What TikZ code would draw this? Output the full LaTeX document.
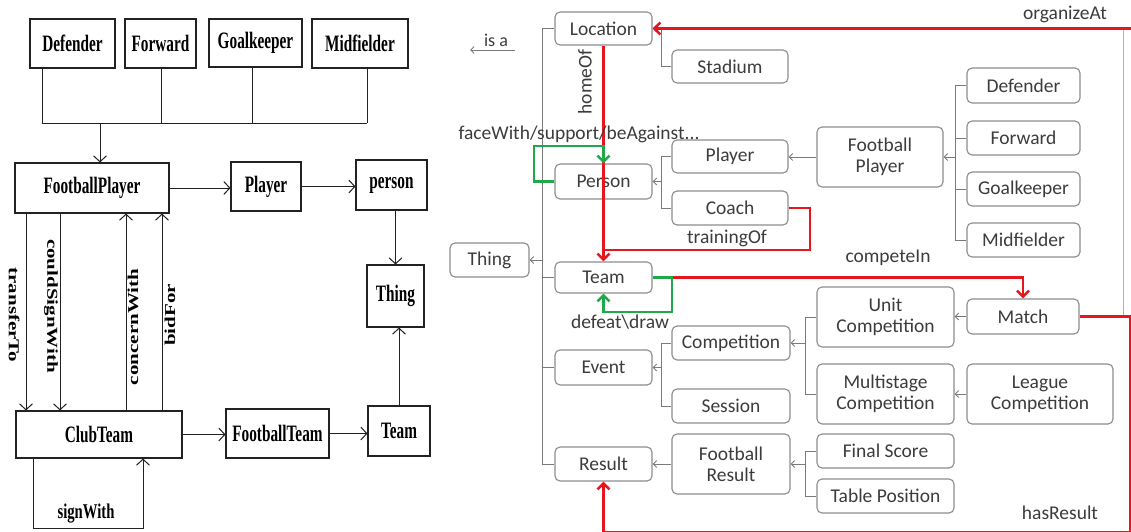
\documentclass[tikz,border=0pt]{standalone}
\usepackage{fontspec}
\usetikzlibrary{arrows.meta}
\setmainfont{Liberation Serif}
\newfontfamily\serifb[FakeStretch=0.65]{Liberation Serif Bold}
\newfontfamily\serifr{Liberation Serif Bold}
\newfontfamily\carl{Carlito}
\definecolor{inkL}{HTML}{222222}
\definecolor{boxline}{HTML}{8C8C8C}
\definecolor{treeline}{HTML}{7A7A7A}
\definecolor{txt}{HTML}{3C3C3C}
\definecolor{relred}{HTML}{E5161E}
\definecolor{relgreen}{HTML}{1FA84C}
\newcommand{\vlab}[1]{\scalebox{1}[0.72]{#1}}
\begin{document}
\begin{tikzpicture}[x=1pt,y=-1pt,
  lbox/.style={draw=inkL,line width=1.1pt,inner sep=0pt,font=\serifb\fontsize{23.5}{26}\selectfont,text=black},
  larr/.style={draw=inkL,line width=1pt,-{Straight Barb[length=6pt,width=13pt]}},
  lline/.style={draw=inkL,line width=1pt},
  llab/.style={inner sep=0pt,font=\serifr\fontsize{21}{24}\selectfont},
  rbox/.style={draw=boxline,line width=1.1pt,rounded corners=5pt,fill=white,inner sep=0pt,
    font=\carl\fontsize{19.5}{21}\selectfont,text=txt,align=center},
  tree/.style={draw=treeline,line width=0.9pt},
  isa/.style={tree,-{Straight Barb[length=3.5pt,width=7pt]}},
  rlab/.style={inner sep=0pt,font=\carl\fontsize{19.5}{21}\selectfont,text=txt},
  rel/.style={draw=relred,line width=2.6pt,-{Straight Barb[length=6pt,width=12pt]}},
  relplain/.style={draw=relred,line width=2.6pt},
  grn/.style={draw=relgreen,line width=2.6pt,-{Straight Barb[length=6pt,width=12pt]}}]
\useasboundingbox (0,0) rectangle (1131,532);
\fill[white] (0,0) rectangle (1131,532);

% ---------------- left diagram ----------------
\node[lbox,minimum width=85pt,minimum height=49pt] (Ldef) at (72.5,43.5) {Defender};
\node[lbox,minimum width=71pt,minimum height=49pt] (Lfwd) at (160.5,43.5) {Forward};
\node[lbox,minimum width=93pt,minimum height=48pt] (Lgk) at (255.5,43) {Goalkeeper};
\node[lbox,minimum width=96pt,minimum height=49pt] (Lmid) at (360,43.5) {Midfielder};
\node[lbox,minimum width=154pt,minimum height=50pt] (Lfp) at (92,188) {FootballPlayer};
\node[lbox,minimum width=70pt,minimum height=49pt] (Lplayer) at (266,186.5) {Player};
\node[lbox,minimum width=71pt,minimum height=50pt] (Lperson) at (391.5,185) {person};
\node[lbox,minimum width=57pt,minimum height=62pt] (Lthing) at (395.5,296) {Thing};
\node[lbox,minimum width=62pt,minimum height=50pt] (Lteam) at (399,431) {Team};
\node[lbox,minimum width=103pt,minimum height=49pt] (Lft) at (277.5,433.5) {FootballTeam};
\node[lbox,minimum width=166pt,minimum height=47pt] (Lclub) at (99,434.5) {ClubTeam};

% bus joining the four positions
\coordinate (b1) at (42,123);
\coordinate (b2) at (161,123);
\coordinate (b3) at (252,123);
\coordinate (b4) at (367,123);
\coordinate (bm) at (100,123);
\draw[lline] (Ldef.south -| b1) -- (b1) -- (b4);
\draw[lline] (Lfwd.south -| b2) -- (b2);
\draw[lline] (Lgk.south -| b3) -- (b3);
\draw[lline] (Lmid.south -| b4) -- (b4);
\draw[larr] (bm) -- (bm |- Lfp.north);

\draw[larr] (Lfp.east) -- (Lfp.east -| Lplayer.west);
\draw[larr] (Lplayer.east) -- (Lplayer.east -| Lperson.west);
\draw[larr] (Lperson.south -| Lthing.north) -- (Lthing.north);
\draw[larr] (Lteam.north) -- (Lteam.north |- Lthing.south);
\draw[larr] (Lclub.east) -- (Lclub.east -| Lft.west);
\draw[larr] (Lft.east) -- (Lft.east -| Lteam.west);

% relations between FootballPlayer and ClubTeam
\coordinate (xT) at (26,0);
\coordinate (xC) at (60,0);
\coordinate (xW) at (126,0);
\coordinate (xB) at (162,0);
\draw[larr] (Lfp.south -| xT) -- (Lclub.north -| xT);
\draw[larr] (Lfp.south -| xC) -- (Lclub.north -| xC);
\draw[larr] (Lclub.north -| xW) -- (Lfp.south -| xW);
\draw[larr] (Lclub.north -| xB) -- (Lfp.south -| xB);
\node[llab,rotate=-90] (lblTransfer) at (14,315) {\vlab{transferTo}};
\node[llab,rotate=-90] (lblCould) at (51,306) {\vlab{couldSignWith}};
\node[llab,rotate=90] (lblConcern) at (133,327) {\vlab{concernWith}};
\node[llab,rotate=90] (lblBid) at (170,315) {\vlab{bidFor}};

% signWith loop
\coordinate (s1) at (33,528);
\coordinate (s2) at (143,528);
\draw[larr] (Lclub.south -| s1) -- (s1) -- (s2) -- (Lclub.south -| s2);
\node[llab] (lblSign) at (86,514) {\scalebox{0.7}[1]{signWith}};

% ---------------- right diagram ----------------
\node[rbox,minimum width=97pt,minimum height=33pt] (Rloc) at (603.5,28.5) {Location};
\node[rbox,minimum width=116pt,minimum height=33pt] (Rstad) at (730,66.5) {Stadium};
\node[rbox,minimum width=97pt,minimum height=35pt] (Rperson) at (603.5,181.5) {Person};
\node[rbox,minimum width=116pt,minimum height=33pt] (Rplayer) at (730,156.5) {Player};
\node[rbox,minimum width=116pt,minimum height=34pt] (Rcoach) at (730,208) {Coach};
\node[rbox,minimum width=79pt,minimum height=34pt] (Rthing) at (489.5,260) {Thing};
\node[rbox,minimum width=97pt,minimum height=31pt] (Rteam) at (603.5,277.5) {Team};
\node[rbox,minimum width=97pt,minimum height=35pt] (Revent) at (603.5,367.5) {Event};
\node[rbox,minimum width=97pt,minimum height=34pt] (Rresult) at (603.5,464) {Result};
\node[rbox,minimum width=118pt,minimum height=34pt] (Rcomp) at (731,343) {Competition};
\node[rbox,minimum width=118pt,minimum height=34pt] (Rsess) at (731,406) {Session};
\node[rbox,minimum width=118pt,minimum height=60pt] (Rfres) at (731,464) {Football\\Result};
\node[rbox,minimum width=126pt,minimum height=60pt] (Rfp) at (880,157) {Football\\Player};
\node[rbox,minimum width=113pt,minimum height=35pt] (Rdef) at (1023.5,85.5) {Defender};
\node[rbox,minimum width=113pt,minimum height=34pt] (Rfwd) at (1023.5,138) {Forward};
\node[rbox,minimum width=113pt,minimum height=34pt] (Rgk) at (1023.5,189) {Goalkeeper};
\node[rbox,minimum width=113pt,minimum height=34pt] (Rmid) at (1023.5,240) {Midfielder};
\node[rbox,minimum width=137pt,minimum height=60pt] (Runit) at (885.5,317) {Unit\\Competition};
\node[rbox,minimum width=137pt,minimum height=60pt] (Rmulti) at (885.5,394) {Multistage\\Competition};
\node[rbox,minimum width=112pt,minimum height=35pt] (Rmatch) at (1023,316.5) {Match};
\node[rbox,minimum width=146pt,minimum height=60pt] (Rleague) at (1040,394) {League\\Competition};
\node[rbox,minimum width=137pt,minimum height=34pt] (Rfinal) at (885.5,451) {Final Score};
\node[rbox,minimum width=137pt,minimum height=34pt] (Rtable) at (885.5,496) {Table Position};

% legend
\node[rlab,font=\carl\fontsize{18}{20}\selectfont] (isaLbl) at (496,40) {is a};
\coordinate (isaA) at (515,50);
\coordinate (isaB) at (470,50);
\draw[isa] (isaA) -- (isaB);

% is-a hierarchy
\coordinate (tA) at (542,28.5);
\coordinate (tB) at (542,464);
\draw[tree] (tA) -- (tB);
\foreach \n in {Rloc,Rperson,Rteam,Revent,Rresult}
  \draw[tree] (\n.west -| tA) -- (\n.west);
\draw[isa] (Rthing.east -| tA) -- (Rthing.east);

\coordinate (k1) at (661,0);
\coordinate (k2) at (955,0);
\coordinate (k3) at (805,0);
% Location
\draw[tree] (Rstad.west) -| (k1 |- Rloc.east);
\draw[isa] (k1 |- Rloc.east) -- (Rloc.east);
% Person
\draw[tree] (Rplayer.west) -| (k1 |- Rcoach.west) -- (Rcoach.west);
\draw[isa] (k1 |- Rperson.east) -- (Rperson.east);
% Player
\draw[isa] (Rfp.west) -- (Rfp.west -| Rplayer.east);
% Football Player
\draw[tree] (Rdef.west) -| (k2 |- Rmid.west) -- (Rmid.west);
\draw[tree] (Rfwd.west) -- (Rfwd.west -| k2);
\draw[tree] (Rgk.west) -- (Rgk.west -| k2);
\draw[isa] (k2 |- Rfp.east) -- (Rfp.east);
% Event
\draw[tree] (Rcomp.west) -| (k1 |- Rsess.west) -- (Rsess.west);
\draw[isa] (k1 |- Revent.east) -- (Revent.east);
% Competition
\draw[tree] (Runit.west) -| (k3 |- Rmulti.west) -- (Rmulti.west);
\draw[isa] (k3 |- Rcomp.east) -- (Rcomp.east);
\draw[isa] (Rmatch.west) -- (Rmatch.west -| Runit.east);
\draw[isa] (Rleague.west) -- (Rleague.west -| Rmulti.east);
% Result
\draw[isa] (Rfres.west) -- (Rfres.west -| Rresult.east);
\draw[tree] (Rfinal.west) -| (k3 |- Rtable.west) -- (Rtable.west);
\draw[isa] (k3 |- Rfres.east) -- (Rfres.east);

% object properties
\coordinate (oR) at (1136,28.5);
\coordinate (oV) at (1123,28.5);
\coordinate (oW) at (1123,316.5);
\draw[draw=relred!45,line width=0.9pt] (oV) -- (oW);
\draw[rel] (oR) -- (Rloc.east);
\coordinate (hR) at (1130.5,532);
\coordinate (hL) at (603.5,532);
\draw[rel] (Rmatch.east) -| (hR) -- (hL) -- (Rresult.south);
\draw[rel] (Rloc.south) -- (Rteam.north);
\coordinate (tr1) at (810,250);
\draw[relplain] (Rcoach.east) -| (tr1) -- (tr1 -| Rteam.north);
\coordinate (cj) at (672,277.5);
\draw[rel] (cj) -| (Rmatch.north);
\coordinate (dg) at (672,312);
\draw[grn] (Rteam.east) -| (dg) -- (dg -| Rteam.south) -- (Rteam.south);
\coordinate (fg) at (534,146);
\draw[grn] (Rperson.west) -| (fg) -- (fg -| Rperson.north) -- (Rperson.north);

\node[rlab,rotate=90] (homeOfLbl) at (585,82) {homeOf};
\node[rlab] (faceLbl) at (579,134) {faceWith/support/beAgainst...};
\node[rlab] (trainLbl) at (727,238) {trainingOf};
\node[rlab] (competeLbl) at (888,258) {competeIn};
\node[rlab] (defeatLbl) at (620,322) {defeat\textbackslash draw};
\node[rlab] (organizeLbl) at (1065,14) {organizeAt};
\node[rlab] (hasResultLbl) at (1060,513) {hasResult};
\end{tikzpicture}
\end{document}
